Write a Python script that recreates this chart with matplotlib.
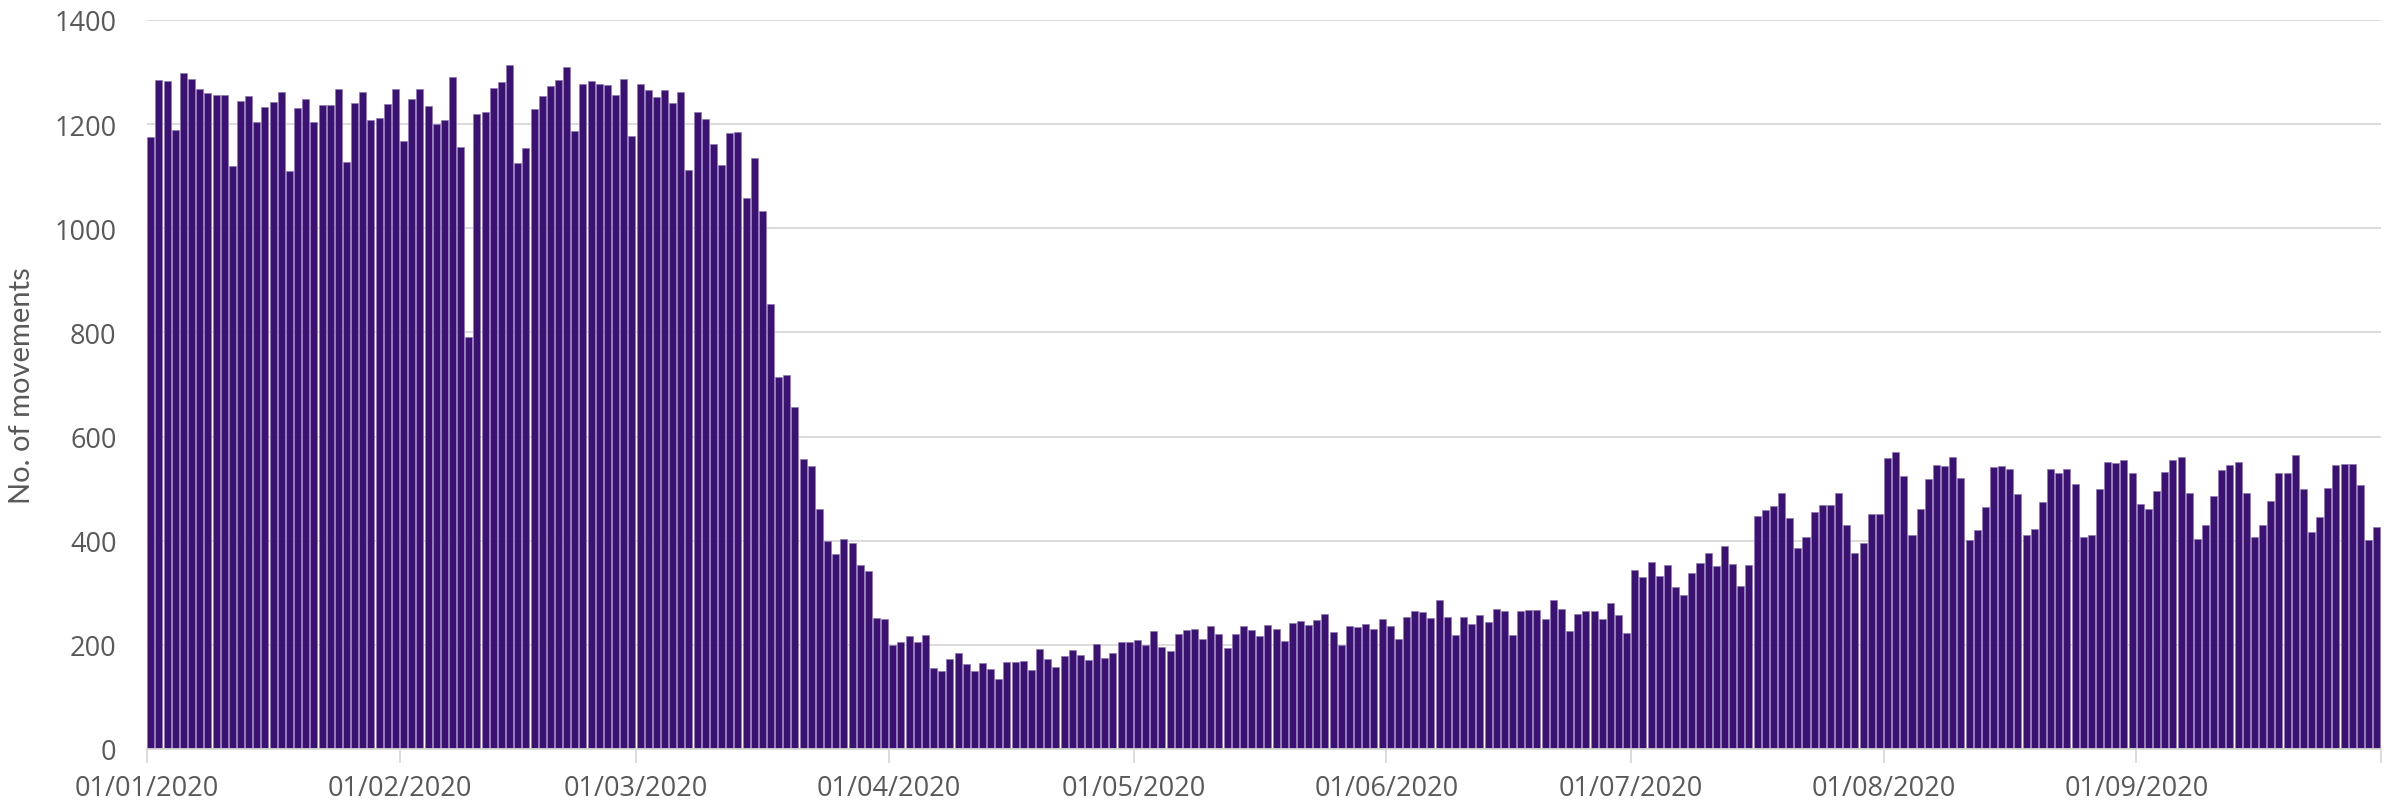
import numpy as np
import pandas as pd
import matplotlib
matplotlib.use("Agg")
import matplotlib.pyplot as plt

# daily movements, one list per month (2020)
jan = [1176, 1285, 1283, 1188, 1298, 1286, 1268, 1259, 1256, 1256, 1119, 1244, 1253, 1203, 1233, 1243,
       1261, 1110, 1230, 1248, 1203, 1236, 1236, 1267, 1127, 1240, 1261, 1207, 1211, 1238, 1268]
feb = [1168, 1248, 1267, 1234, 1201, 1208, 1290, 1155, 791, 1219, 1223, 1269, 1280, 1314, 1125,
       1154, 1229, 1253, 1273, 1284, 1310, 1187, 1276, 1283, 1277, 1275, 1256, 1287, 1178]
mar = [1277, 1266, 1251, 1266, 1241, 1261, 1111, 1224, 1209, 1161, 1122, 1182, 1185, 1058, 1135, 1034,
       854, 714, 718, 657, 556, 543, 460, 399, 374, 404, 395, 353, 342, 251, 249]
apr = [199, 205, 216, 206, 219, 155, 150, 172, 185, 164, 150, 166, 153, 135, 167,
       167, 168, 151, 192, 173, 158, 178, 191, 180, 171, 202, 175, 184, 206, 205]
may = [210, 199, 226, 196, 189, 220, 228, 231, 211, 237, 221, 194, 220, 237, 229, 216,
       238, 230, 208, 241, 246, 238, 247, 259, 225, 200, 237, 235, 240, 230, 250]
jun = [236, 212, 254, 265, 263, 252, 286, 254, 219, 254, 240, 258, 243, 269, 265,
       219, 264, 267, 267, 250, 286, 268, 227, 260, 265, 265, 249, 280, 258, 223]
jul = [343, 331, 359, 332, 353, 311, 296, 338, 358, 376, 351, 390, 356, 313, 353, 448,
       459, 467, 492, 444, 386, 407, 455, 469, 469, 492, 430, 376, 396, 452, 452]
aug = [559, 571, 525, 411, 460, 519, 546, 543, 560, 520, 402, 421, 465, 541, 543, 538,
       490, 410, 423, 475, 537, 530, 538, 509, 408, 410, 499, 551, 550, 554, 530]
sep = [471, 460, 495, 532, 555, 560, 491, 404, 431, 486, 535, 546, 552, 491, 408,
       431, 476, 529, 530, 564, 499, 416, 446, 501, 546, 548, 547, 506, 401, 426]

movements = np.array(jan + feb + mar + apr + may + jun + jul + aug + sep)
days = pd.date_range("2020-01-01", periods=len(movements), freq="D")

bar_col = "#3C1174"
txt_col = "#595959"

fig = plt.figure(figsize=(23.94, 8.04), dpi=100)
ax = fig.add_axes([0.0614, 0.0672, 0.9332, 0.9068])

x = np.arange(len(movements))
ax.bar(x + 0.04, movements, width=0.86, align="edge", color=bar_col,
       edgecolor="#8E7BB0", linewidth=0.5, zorder=3)

ax.set_xlim(0, len(movements))
ax.set_ylim(0, 1400)
ax.set_yticks(np.arange(0, 1401, 200))
ax.grid(axis="y", color="#D9D9D9", linewidth=1.3, zorder=0)

# month ticks (labelled) + closing tick at the end of the range
first = np.where(days.day == 1)[0]
ax.set_xticks(first)
ax.set_xticklabels([d.strftime("%d/%m/%Y") for d in days[first]])
ax.set_xticks([len(movements)], minor=True)

for s in ["top", "right", "left"]:
    ax.spines[s].set_visible(False)
ax.spines["bottom"].set_color("#D9D9D9")
ax.spines["bottom"].set_linewidth(1.3)
ax.spines["bottom"].set_zorder(4)

ax.tick_params(axis="x", which="both", length=10, width=1.3, color="#D9D9D9", pad=8,
               labelsize=19.5, labelcolor=txt_col)
ax.tick_params(axis="y", length=0, pad=22, labelsize=19.5, labelcolor=txt_col)
for lab in ax.get_xticklabels() + ax.get_yticklabels():
    lab.set_fontfamily("Open Sans")

ax.set_ylabel("No. of movements", fontsize=21, color=txt_col, family="Lato", labelpad=14)

fig.savefig("out.png", dpi=100)
